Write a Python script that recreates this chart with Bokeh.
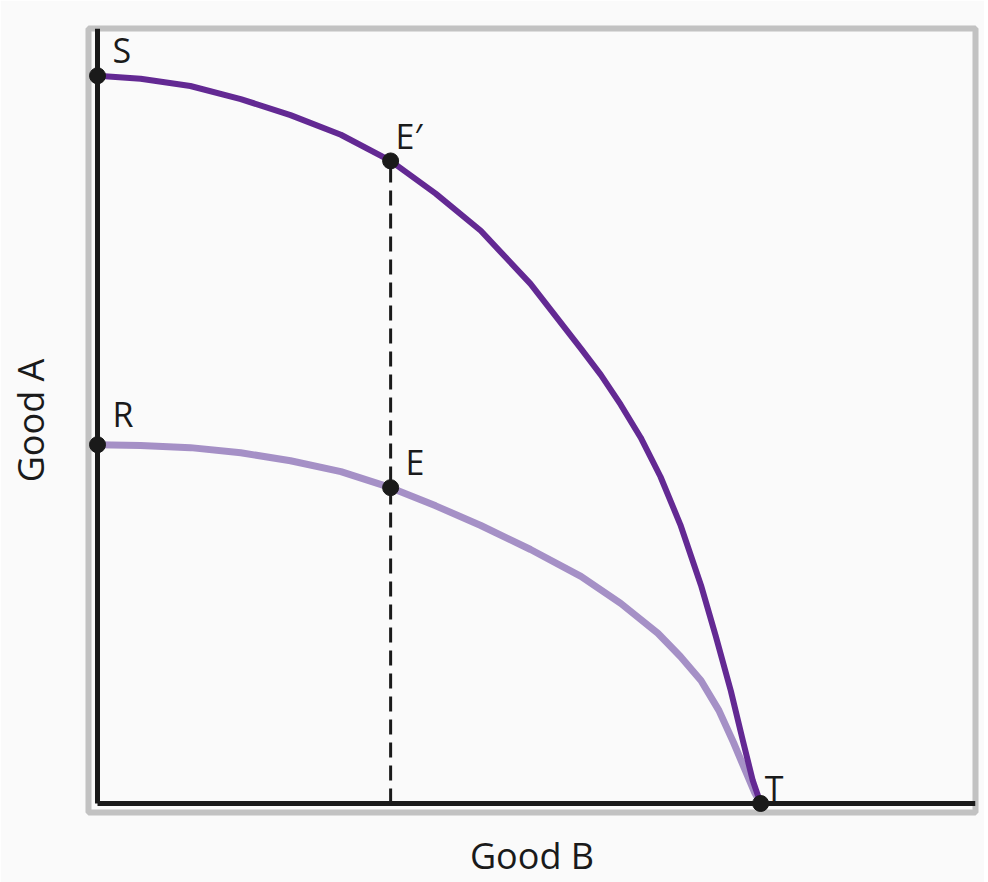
from bokeh.plotting import figure
from bokeh.models import ColumnDataSource, Range1d, FixedTicker, LinearAxis
from bokeh.core.properties import value
from bokeh.embed import file_html
from bokeh.resources import INLINE

# ---- data ----
# outer frontier S -> E' -> T (dark purple)
outer_b = [0, 0.65, 1.40, 2.16, 2.91, 3.67, 4.42, 5.10, 5.78, 6.53, 7.29, 7.59, 7.89,
           8.19, 8.49, 8.79, 9.10, 9.32, 9.55, 9.73, 9.88, 10]
outer_a = [10, 9.96, 9.86, 9.68, 9.46, 9.19, 8.83, 8.38, 7.87, 7.14, 6.25, 5.89, 5.48,
           5.03, 4.49, 3.83, 3.00, 2.31, 1.55, 0.87, 0.32, 0]
# inner frontier R -> E -> T (light purple)
inner_b = [0, 0.65, 1.40, 2.16, 2.91, 3.67, 4.42, 5.10, 5.78, 6.53, 7.29, 7.89, 8.45,
           8.79, 9.10, 9.37, 9.59, 9.77, 9.91, 10]
inner_a = [4.93, 4.92, 4.89, 4.82, 4.71, 4.56, 4.34, 4.09, 3.82, 3.49, 3.12, 2.75, 2.34,
           2.02, 1.69, 1.28, 0.84, 0.45, 0.15, 0]
# labelled points
pt_names = ["S", "E\u2032", "R", "E", "T"]
pt_b = [0, 4.42, 0, 4.42, 10]
pt_a = [10, 8.83, 4.93, 4.34, 0]
x_title = "Good B"
y_title = "Good A"

# ---- styling ----
label_dx = {"S": 15, "E\u2032": 5, "R": 15, "E": 15, "T": 4}
label_dy = {"S": -26, "E\u2032": -25, "R": -31, "E": -26, "T": -15}
FONT = "Open Sans"
BG = "#fafafa"
INK = "#1a1a1a"

p = figure(width=984, height=882, output_backend="svg", toolbar_location=None,
           x_range=Range1d(-0.136, 13.24), y_range=Range1d(-0.124, 10.65),
           min_border_left=88, min_border_top=28, min_border_right=9, min_border_bottom=70)
p.background_fill_color = BG
p.border_fill_color = BG
p.outline_line_color = "#8a8a8a"
p.outline_line_width = 6
p.outline_line_alpha = 0.5
p.grid.visible = False


def bare(ax):
    ax.ticker = FixedTicker(ticks=[])
    ax.major_tick_out = 0
    ax.major_tick_in = 0
    ax.minor_tick_out = 0
    ax.minor_tick_in = 0
    ax.major_label_text_font_size = "0px"
    ax.major_label_standoff = 0


for ax in (p.xaxis[0], p.yaxis[0]):
    bare(ax)
    ax.fixed_location = 0
    ax.axis_line_color = INK
    ax.axis_line_width = 5
p.xaxis[0].bounds = (0, 13.24)
p.yaxis[0].bounds = (0, 10.65)

# title-only axes laid out outside the frame
xt = LinearAxis(axis_label=x_title)
yt = LinearAxis(axis_label=y_title)
for ax, so in ((xt, 18), (yt, 34)):
    bare(ax)
    ax.axis_line_color = None
    ax.axis_label_standoff = so
    ax.axis_label_text_font = FONT
    ax.axis_label_text_font_size = "36px"
    ax.axis_label_text_font_style = "normal"
    ax.axis_label_text_color = INK
p.add_layout(xt, "below")
p.add_layout(yt, "left")

# dashed guide from E' down to the axis
p.segment(x0=[pt_b[1]], y0=[0], x1=[pt_b[1]], y1=[pt_a[1]],
          line_color=INK, line_width=3, line_dash="15 8")

p.line(inner_b, inner_a, line_color="#a590c6", line_width=7, line_cap="round",
       line_join="round")
p.line(outer_b, outer_a, line_color="#632993", line_width=6, line_cap="round",
       line_join="round")

src = ColumnDataSource(dict(
    x=pt_b, y=pt_a, name=pt_names,
    dx=[label_dx[n] for n in pt_names], dy=[label_dy[n] for n in pt_names]))
p.scatter("x", "y", source=src, size=16, fill_color=INK, line_color=INK)
p.text("x", "y", text="name", source=src, x_offset="dx", y_offset="dy",
       text_font=value(FONT), text_font_size="34px", text_color=INK,
       text_align="left", text_baseline="alphabetic")

open("out.html", "w").write(file_html(p, INLINE))
